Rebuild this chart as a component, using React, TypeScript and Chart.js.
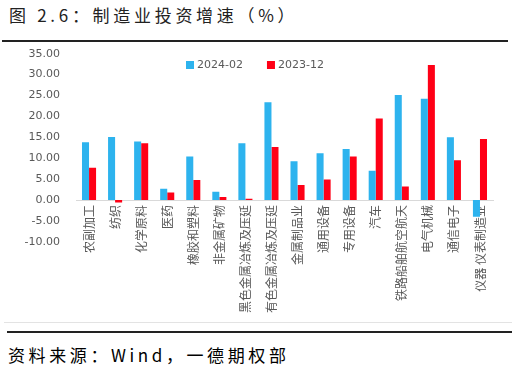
import React, { useEffect, useRef } from "react";
import { Chart, registerables } from "chart.js";

Chart.register(...registerables);

const categories = [
  "农副加工",
  "纺织",
  "化学原料",
  "医药",
  "橡胶和塑料",
  "非金属矿物",
  "黑色金属冶炼及压延",
  "有色金属冶炼及压延",
  "金属制品业",
  "通用设备",
  "专用设备",
  "汽车",
  "铁路船舶航空航天",
  "电气机械",
  "通信电子",
  "仪器 仪表制造业",
];

const series2024_02 = [13.8, 15.1, 14.0, 2.7, 10.4, 2.0, 13.6, 23.4, 9.3, 11.2, 12.2, 7.0, 25.1, 24.2, 15.0, -4.0];
const series2023_12 = [7.7, -0.6, 13.6, 1.8, 4.8, 0.7, 0.3, 12.7, 3.6, 4.9, 10.4, 19.5, 3.2, 32.3, 9.5, 14.6];

const seriesLabels = ["2024-02", "2023-12"];
const seriesColors = ["#2DB3EE", "#FF0016"];

const yMin = -10;
const yMax = 35;
const yStep = 5;

const legendPlugin = {
  id: "customLegend",
  afterDraw(chart: any) {
    const ctx = chart.ctx;
    ctx.save();
    ctx.font = "11px 'DejaVu Sans'";
    ctx.textBaseline = "middle";
    ctx.textAlign = "left";
    let x = 186;
    const y = 21;
    chart.data.datasets.forEach((ds: any) => {
      ctx.fillStyle = ds.backgroundColor;
      ctx.fillRect(x, y - 4, 8, 8);
      x += 11;
      ctx.fillStyle = "#595959";
      ctx.fillText(ds.label, x, y + 0.5);
      x += ctx.measureText(ds.label).width + 24;
    });
    ctx.restore();
  },
};

function BarChart() {
  const ref = useRef<HTMLCanvasElement | null>(null);
  useEffect(() => {
    if (!ref.current) return;
    const chart = new Chart(ref.current, {
      type: "bar",
      data: {
        labels: categories,
        datasets: [
          {
            label: seriesLabels[0],
            data: series2024_02,
            backgroundColor: seriesColors[0],
            barPercentage: 1,
            categoryPercentage: 0.54,
          },
          {
            label: seriesLabels[1],
            data: series2023_12,
            backgroundColor: seriesColors[1],
            barPercentage: 1,
            categoryPercentage: 0.54,
          },
        ],
      },
      options: {
        responsive: false,
        animation: false,
        devicePixelRatio: 1,
        layout: { padding: { top: 9.7, right: 21, left: 0, bottom: 80.2 } },
        plugins: {
          legend: { display: false },
          tooltip: { enabled: false },
        },
        scales: {
          x: {
            position: { y: 0 } as any,
            grid: { display: false, drawTicks: false },
            border: { display: true, color: "#D9D9D9", width: 1 },
            ticks: {
              autoSkip: false,
              minRotation: 90,
              maxRotation: 90,
              padding: 5,
              color: "#595959",
              font: { family: "'Noto Sans CJK SC'", size: 12 },
            },
            afterFit: (s: any) => {
              s.height = 0;
              s.paddingLeft = 0;
              s.paddingRight = 0;
              s.paddingTop = 0;
              s.paddingBottom = 0;
            },
          },
          y: {
            min: yMin,
            max: yMax,
            grid: { display: false, drawTicks: false },
            border: { display: false },
            ticks: {
              stepSize: yStep,
              padding: 16,
              color: "#595959",
              font: { family: "'DejaVu Sans'", size: 11 },
              callback: (v: any) => Number(v).toFixed(2),
            },
            afterFit: (s: any) => {
              s.width = 76;
              s.paddingTop = 0;
              s.paddingBottom = 0;
            },
          },
        },
      },
      plugins: [legendPlugin],
    });
    return () => chart.destroy();
  }, []);
  return <canvas ref={ref} width={514} height={278} style={{ display: "block" }} />;
}

export default function App() {
  return (
    <div
      style={{
        position: "absolute",
        left: 0,
        top: 0,
        width: 514,
        height: 367,
        background: "#fff",
        overflow: "hidden",
      }}
    >
      <div
        style={{
          position: "absolute",
          left: 9,
          top: 5,
          fontFamily: "'Noto Sans CJK SC'",
          fontSize: 17,
          lineHeight: "20px",
          letterSpacing: 3.7,
          color: "#222",
          whiteSpace: "nowrap",
        }}
      >
        图 2.6：制造业投资增速（%）
      </div>
      <div style={{ position: "absolute", left: 2, top: 40, width: 506, height: 2, background: "#222" }} />
      <div style={{ position: "absolute", left: 0, top: 44, width: 514, height: 278 }}>
        <BarChart />
      </div>
      <div style={{ position: "absolute", left: 4, top: 322, width: 508, height: 1, background: "#E3E3E3" }} />
      <div style={{ position: "absolute", left: 7, top: 331, width: 505, height: 2, background: "#222" }} />
      <div
        style={{
          position: "absolute",
          left: 8,
          top: 345,
          fontFamily: "'Noto Sans CJK SC'",
          fontSize: 17,
          lineHeight: "20px",
          letterSpacing: 3.6,
          color: "#000",
          whiteSpace: "nowrap",
        }}
      >
        资料来源：Wind，一德期权部
      </div>
    </div>
  );
}
